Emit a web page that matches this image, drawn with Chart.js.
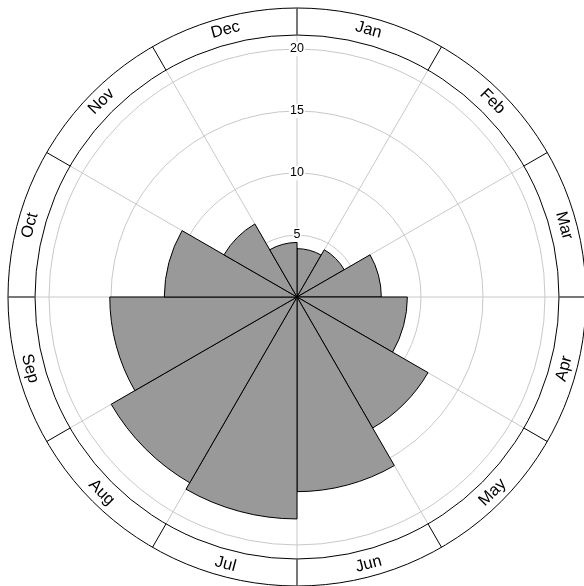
<!DOCTYPE html>
<html lang="en">
<head>
<meta charset="UTF-8">
<title>Monthly polar area</title>
<script src="https://cdn.jsdelivr.net/npm/chart.js@4.4.1/dist/chart.umd.min.js"></script>
<style>
    body { margin: 0; background: #fff; }
    #wrap { width: 584px; height: 586px; }
</style>
</head>
<body>
<div id="wrap"><canvas id="myChart" width="584" height="586"></canvas></div>
<script>
// data
const months = ['Jan', 'Feb', 'Mar', 'Apr', 'May', 'Jun', 'Jul', 'Aug', 'Sep', 'Oct', 'Nov', 'Dec'];
const values = [3.9, 4.4, 6.8, 8.9, 12.2, 15.7, 17.9, 17.3, 15.1, 10.7, 6.8, 4.4];
const tickValues = [5, 10, 15, 20];
const scaleMax = 21.13;

// geometry of the rose
const centerX = 297, centerY = 297;
const innerRing = 262, outerRing = 289;
const fontName = '"Liberation Sans", Arial, sans-serif';

// label ring around the plot (month names + separators)
const monthRing = {
    id: 'monthRing',
    afterDraw(chart) {
        const ctx = chart.ctx;
        const scale = chart.scales.r;
        const cx = scale.xCenter, cy = scale.yCenter;
        const r1 = scale.drawingArea, r2 = outerRing;
        const labels = chart.data.labels;
        const n = labels.length;

        ctx.save();
        ctx.strokeStyle = '#000';
        ctx.lineWidth = 1;
        [r1, r2].forEach(r => {
            ctx.beginPath();
            ctx.arc(cx, cy, r, 0, 2 * Math.PI);
            ctx.stroke();
        });

        for (let i = 0; i < n; i++) {
            const a = scale.getIndexAngle(i);
            const cardinal = (i * 4) % n === 0;
            ctx.strokeStyle = cardinal ? '#555' : '#000';
            ctx.lineWidth = cardinal ? 1.6 : 1;
            ctx.beginPath();
            ctx.moveTo(cx + r1 * Math.sin(a), cy - r1 * Math.cos(a));
            ctx.lineTo(cx + r2 * Math.sin(a), cy - r2 * Math.cos(a));
            ctx.stroke();
        }

        ctx.fillStyle = '#000';
        ctx.font = '16.5px ' + fontName;
        ctx.textAlign = 'center';
        ctx.textBaseline = 'middle';
        const rm = (r1 + r2) / 2 + 1;
        for (let i = 0; i < n; i++) {
            const t = scale.getIndexAngle(i) + Math.PI / n;
            const x = cx + rm * Math.sin(t);
            const y = cy - rm * Math.cos(t);
            const rot = (t > Math.PI / 2 && t < 3 * Math.PI / 2) ? t - Math.PI : t;
            ctx.save();
            ctx.translate(x, y);
            ctx.rotate(rot);
            ctx.fillText(labels[i], 0, 0);
            ctx.restore();
        }
        ctx.restore();
    }
};

const ctx = document.getElementById('myChart').getContext('2d');
const myChart = new Chart(ctx, {
    type: 'polarArea',
    data: {
        labels: months,
        datasets: [{
            data: values,
            backgroundColor: '#999999',
            borderColor: '#000000',
            borderWidth: 1
        }]
    },
    options: {
        responsive: false,
        animation: false,
        layout: { padding: 0 },
        plugins: {
            legend: { display: false },
            tooltip: { enabled: false }
        },
        scales: {
            r: {
                min: 0,
                max: scaleMax,
                startAngle: 0,
                angleLines: { display: true, color: '#c8c8c8', lineWidth: 1 },
                grid: { circular: true, color: '#c8c8c8', lineWidth: 1 },
                pointLabels: { display: false },
                ticks: {
                    color: '#000',
                    font: { family: fontName, size: 12.5 },
                    showLabelBackdrop: true,
                    backdropColor: '#fff',
                    backdropPadding: 1,
                    z: 0
                },
                afterBuildTicks: (scale) => {
                    scale.ticks = [0].concat(tickValues).map(v => ({ value: v }));
                },
                afterFit: (scale) => {
                    scale.xCenter = centerX;
                    scale.yCenter = centerY;
                    scale.drawingArea = innerRing;
                }
            }
        }
    },
    plugins: [monthRing]
});
</script>
</body>
</html>
